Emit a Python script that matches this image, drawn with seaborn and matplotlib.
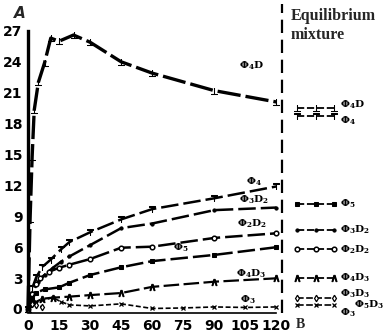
import matplotlib
matplotlib.use("Agg")
import matplotlib.pyplot as plt
import seaborn as sns
import numpy as np

sns.set_theme(style="white")
plt.rcParams['font.family'] = ['Liberation Sans Narrow', 'DejaVu Sans']
plt.rcParams['mathtext.fontset'] = 'dejavuserif'

# ---- data (time in min, value A) ----
t_p4d = [0, 1, 2, 3, 5, 8, 11, 15, 22, 30, 45, 60, 90, 120]
y_p4d = [0, 8.7, 14.8, 19.3, 22.0, 23.9, 26.3, 26.0, 26.6, 25.9, 24.0, 22.9, 21.2, 20.1]

t_p4 = [0, 2, 4, 7, 11, 16, 20, 30, 45, 60, 90, 120]
y_p4 = [0, 2.0, 3.1, 4.1, 4.8, 5.8, 6.5, 7.45, 8.7, 9.7, 10.75, 11.9]

t_p3d2 = [0, 2, 5, 8, 12, 16, 20, 30, 45, 60, 90, 120]
y_p3d2 = [0, 1.6, 2.6, 3.3, 4.0, 4.6, 5.1, 6.2, 7.85, 8.3, 9.6, 9.85]

t_p2d2 = [0, 2, 4, 6, 10, 15, 20, 30, 45, 60, 90, 120]
y_p2d2 = [0, 1.5, 2.4, 3.0, 3.6, 4.0, 4.3, 4.85, 5.95, 6.05, 6.9, 7.35]

t_p5 = [0, 2, 4, 8, 15, 20, 30, 45, 60, 90, 120]
y_p5 = [0, 1.0, 1.6, 1.9, 2.1, 2.55, 3.3, 4.05, 4.65, 5.25, 6.0]

t_p4d3 = [0, 3, 7, 12, 20, 30, 45, 60, 90, 120]
y_p4d3 = [0, 0.6, 1.0, 1.1, 1.2, 1.35, 1.55, 2.15, 2.65, 2.98]

t_p3 = [0, 3, 7, 12, 16, 20, 30, 45, 60, 75, 90, 105, 120]
y_p3 = [0, 0.5, 0.85, 1.1, 0.7, 0.4, 0.3, 0.5, 0.05, 0.1, 0.2, 0.15, 0.2]

t_p3d3 = [0, 2, 4, 7]
y_p3d3 = [0, 0.5, 0.4, 0.2]

# equilibrium mixture values
eq_names = ['p4d', 'p4', 'p5', 'p3d2', 'p2d2', 'p4d3', 'p3d3', 'p3']
eq_vals = [19.5, 18.7, 10.2, 7.7, 5.8, 3.0, 1.1, 0.35]
eq_labels = [r'$\mathbf{\Phi_4 D}$', r'$\mathbf{\Phi_4}$', r'$\mathbf{\Phi_5}$',
             r'$\mathbf{\Phi_3 D_2}$', r'$\mathbf{\Phi_2 D_2}$', r'$\mathbf{\Phi_4 D_3}$',
             r'$\mathbf{\Phi_3 D_3}$', r'$\mathbf{\Phi_3}$']

xticks = [0, 15, 30, 45, 60, 75, 90, 105, 120]
yticks = [0, 3, 6, 9, 12, 15, 18, 21, 24, 27]

# ---- styles ----
styles = {
    'p4d': dict(marker=r'$\perp$', ms=4.5, lw=2.4, dashes=(7, 1.5)),
    'p4': dict(marker=r'$\top$', ms=4.5, lw=1.8, dashes=(7, 2)),
    'p3d2': dict(marker='o', ms=2.3, lw=1.8, dashes=(7, 2)),
    'p2d2': dict(marker='o', ms=3.3, lw=1.8, dashes=(7, 2), mfc='white', mew=1.1),
    'p5': dict(marker='s', ms=3.0, lw=1.8, dashes=(7, 2)),
    'p4d3': dict(marker=r'$\wedge$', ms=4.5, lw=1.6, dashes=(7, 2)),
    'p3': dict(marker='x', ms=3.0, lw=1.2, dashes=(3, 1.5), mew=0.9),
    'p3d3': dict(marker='d', ms=3.3, lw=1.2, dashes=(3, 1.5), mfc='white', mew=0.9),
}
series = {
    'p4d': (t_p4d, y_p4d), 'p4': (t_p4, y_p4), 'p3d2': (t_p3d2, y_p3d2),
    'p2d2': (t_p2d2, y_p2d2), 'p5': (t_p5, y_p5), 'p4d3': (t_p4d3, y_p4d3),
    'p3': (t_p3, y_p3), 'p3d3': (t_p3d3, y_p3d3),
}

W, H = 391, 334
fig = plt.figure(figsize=(W / 100, H / 100), dpi=100)
x0px, pxx = 28, 2.07
y0px, pxy = 309, 10.3
ax_left, ax_right, ax_top, ax_bot = 28, 391, 4, 313
ax = fig.add_axes([ax_left / W, (H - ax_bot) / H, (ax_right - ax_left) / W, (ax_bot - ax_top) / H])
ax.set_xlim((ax_left - x0px) / pxx, (ax_right - x0px) / pxx)
ax.set_ylim((y0px - ax_bot) / pxy, (y0px - ax_top) / pxy)
ax.patch.set_alpha(0)

for key, (tx, ty) in series.items():
    st = dict(styles[key])
    dashes = st.pop('dashes')
    ms = st.pop('ms')
    sns.lineplot(x=tx, y=ty, ax=ax, color='black', markersize=ms, mec='black',
                 estimator=None, sort=False, clip_on=False, **st).lines[-1].set_dashes(dashes)

# equilibrium "legend" segments
leg_x = [130, 139, 148]
for key, val in zip(eq_names, eq_vals):
    st = dict(styles[key])
    st.pop('dashes')
    ms = st.pop('ms')
    st['lw'] = min(st['lw'], 1.3)
    ln = sns.lineplot(x=leg_x, y=[val] * 3, ax=ax, color='black', markersize=ms,
                      mec='black', estimator=None, sort=False, **st).lines[-1]
    ln.set_dashes((4, 1.5))
lab_fs = 7.5
for val, lab, dy in [(19.5, eq_labels[0], 0.35), (18.7, eq_labels[1], -0.45),
                     (10.2, eq_labels[2], 0), (7.7, eq_labels[3], 0),
                     (5.8, eq_labels[4], 0), (3.0, eq_labels[5], 0),
                     (1.1, eq_labels[6], 0.35)]:
    ax.text(150.5, val + dy, lab, fontsize=lab_fs, ha='left', va='center', color='black')
ax.text(150.5, -0.35, eq_labels[7], fontsize=lab_fs, ha='left', va='center', color='black')
ax.text(157.5, 0.45, r'$\mathbf{\Phi_5 D_3}$', fontsize=lab_fs, ha='left', va='center', color='black')

# curve labels
curve_labels = [(108, 23.6, r'$\mathbf{\Phi_4 D}$'), (109, 12.4, r'$\mathbf{\Phi_4}$'),
                (109, 10.6, r'$\mathbf{\Phi_3 D_2}$'), (108, 8.3, r'$\mathbf{\Phi_2 D_2}$'),
                (74, 5.9, r'$\mathbf{\Phi_5}$'), (108, 3.4, r'$\mathbf{\Phi_4 D_3}$'),
                (106, 0.9, r'$\mathbf{\Phi_3}$')]
for lx, ly, lt in curve_labels:
    ax.text(lx, ly, lt, fontsize=lab_fs, ha='center', va='center', color='black')

# dashed equilibrium divider
ax.axvline(122.5, color='black', lw=1.6, dashes=(6, 3), ymin=0.0, ymax=1.0)

# axes styling
for s in ['top', 'right']:
    ax.spines[s].set_visible(False)
ax.spines['left'].set_bounds(0, 27)
ax.spines['left'].set_linewidth(2.4)
ax.spines['left'].set_color('black')
ax.spines['bottom'].set_bounds(0, 120)
ax.spines['bottom'].set_linewidth(1.2)
ax.spines['bottom'].set_color('black')
ax.set_xticks(xticks)
ax.set_yticks(yticks)
ax.set_xticklabels([str(v) for v in xticks], fontweight='bold', fontsize=10)
ax.set_yticklabels([str(v) for v in yticks], fontweight='bold', fontsize=10)
ax.tick_params(axis='both', which='both', colors='black', length=4, width=1.0,
               direction='inout', pad=2)
ax.set_xlabel('')
ax.set_ylabel('')

fig.text(20 / W, 1 - 14 / H, 'A', fontsize=11, fontweight='bold', fontstyle='italic',
         family=['DejaVu Sans'], ha='center', va='center')
fig.text(300 / W, 1 - 324 / H, 'B', fontsize=10, fontweight='bold',
         family=['Liberation Serif', 'DejaVu Serif'], ha='center', va='center')
fig.text(291 / W, 1 - 8 / H, 'Equilibrium\nmixture', fontsize=11.5, fontweight='bold',
         family=['Liberation Serif', 'DejaVu Serif'], ha='left', va='top', linespacing=1.25)

fig.savefig('out.png', dpi=100)
